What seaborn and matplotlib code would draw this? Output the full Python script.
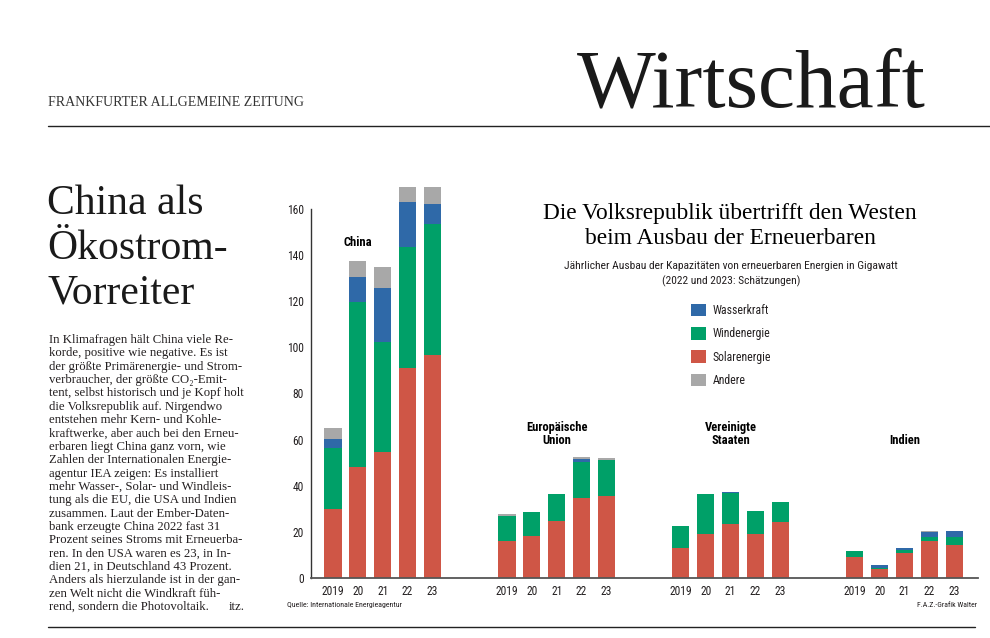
import matplotlib
matplotlib.use("Agg")
import matplotlib.pyplot as plt
import seaborn as sns
import pandas as pd
from matplotlib.patches import Patch
from matplotlib.lines import Line2D

# ---------------- data (GW) ----------------
regions = ["China", "Europäische\nUnion", "Vereinigte\nStaaten", "Indien"]
years = ["2019", "20", "21", "22", "23"]

china_solar = [30.0, 48.0, 54.6, 91.0, 96.6]
china_wind = [26.2, 71.6, 47.8, 52.7, 57.1]
china_hydro = [4.0, 11.0, 23.4, 19.4, 8.6]
china_other = [4.8, 7.0, 9.1, 6.6, 7.5]

eu_solar = [15.8, 18.1, 24.6, 34.6, 35.5]
eu_wind = [11.0, 10.3, 11.6, 15.8, 15.6]
eu_hydro = [0.0, 0.0, 0.0, 1.3, 0.0]
eu_other = [0.9, 0.0, 0.0, 0.6, 0.7]

us_solar = [13.0, 19.0, 23.5, 19.0, 24.2]
us_wind = [9.4, 17.3, 13.5, 10.1, 8.7]
us_hydro = [0.0, 0.0, 0.2, 0.0, 0.0]
us_other = [0.0, 0.0, 0.0, 0.0, 0.0]

india_solar = [9.0, 3.8, 10.7, 15.9, 14.3]
india_wind = [2.6, 0.5, 1.3, 1.9, 3.5]
india_hydro = [0.0, 1.2, 1.0, 1.9, 2.5]
india_other = [0.0, 0.0, 0.0, 0.6, 0.0]

series_labels = ["Wasserkraft", "Windenergie", "Solarenergie", "Andere"]
yticks = [0, 20, 40, 60, 80, 100, 120, 140, 160]

body_lines = [
    "In Klimafragen hält China viele Re-",
    "korde, positive wie negative. Es ist",
    "der größte Primärenergie- und Strom-",
    "verbraucher, der größte CO₂-Emit-",
    "tent, selbst historisch und je Kopf holt",
    "die Volksrepublik auf. Nirgendwo",
    "entstehen mehr Kern- und Kohle-",
    "kraftwerke, aber auch bei den Erneu-",
    "erbaren liegt China ganz vorn, wie",
    "Zahlen der Internationalen Energie-",
    "agentur IEA zeigen: Es installiert",
    "mehr Wasser-, Solar- und Windleis-",
    "tung als die EU, die USA und Indien",
    "zusammen. Laut der Ember-Daten-",
    "bank erzeugte China 2022 fast 31",
    "Prozent seines Stroms mit Erneuerba-",
    "ren. In den USA waren es 23, in In-",
    "dien 21, in Deutschland 43 Prozent.",
    "Anders als hierzulande ist in der gan-",
    "zen Welt nicht die Windkraft füh-",
    "rend, sondern die Photovoltaik.",
]
body_sign = "itz."

# ---------------- table ----------------
blocks = [
    (china_solar, china_wind, china_hydro, china_other),
    (eu_solar, eu_wind, eu_hydro, eu_other),
    (us_solar, us_wind, us_hydro, us_other),
    (india_solar, india_wind, india_hydro, india_other),
]
rows = []
for g, (s, w, h, o) in enumerate(blocks):
    for i in range(len(years)):
        rows.append(dict(region=regions[g], year=years[i], pos=g * 7 + i,
                         solar=s[i], wind=w[i], hydro=h[i], other=o[i]))
df = pd.DataFrame(rows)
df["c_solar"] = df["solar"]
df["c_wind"] = df["c_solar"] + df["wind"]
df["c_hydro"] = df["c_wind"] + df["hydro"]
df["c_other"] = df["c_hydro"] + df["other"]

# ---------------- style ----------------
sns.set_style("white")
SERIF = ["Liberation Serif", "DejaVu Serif"]
SANS = ["Liberation Sans Narrow", "Roboto Condensed", "Open Sans Condensed",
        "DejaVu Sans Condensed", "Roboto", "DejaVu Sans"]
plt.rcParams["font.family"] = SANS

C_RED = "#cf5646"
C_GREEN = "#00a068"
C_BLUE = "#2f69a8"
C_GRAY = "#a8a8a8"
C_TEXT = "#231f20"

W, H = 990, 638
fig = plt.figure(figsize=(W / 100, H / 100), dpi=100)
fig.patch.set_facecolor("white")

def fx(px):
    return px / W

def fy(py):
    return 1 - py / H

# axes: x data 0 at px 333, 24.85 px per unit; y 0 at py 577.7, 2.3025 px per unit
px_unit = 24.85
py_unit = 2.3025
ax_l, ax_r = 311, 978
ax_b = 577.7
ymax = 175
ax_t = ax_b - ymax * py_unit
ax = fig.add_axes([fx(ax_l), fy(ax_b), fx(ax_r - ax_l), (ax_b - ax_t) / H])
ax.set_facecolor("none")

for col, colr in [("c_other", C_GRAY), ("c_hydro", C_BLUE),
                  ("c_wind", C_GREEN), ("c_solar", C_RED)]:
    sns.barplot(data=df, x="pos", y=col, native_scale=True, orient="x",
                width=0.69, color=colr, saturation=1, linewidth=0,
                errorbar=None, ax=ax)

ax.set_xlim((ax_l - 333) / px_unit, (ax_r - 333) / px_unit)
ax.set_ylim(0, ymax)
ax.set_xlabel("")
ax.set_ylabel("")
ax.set_xticks(df["pos"].tolist())
ax.set_xticklabels(df["year"].tolist())
ax.set_yticks(yticks)
ax.set_yticklabels([str(v) for v in yticks])
ax.tick_params(axis="x", length=0, pad=5, labelsize=8.3, labelcolor=C_TEXT)
ax.tick_params(axis="y", length=3, width=0.9, pad=2, labelsize=8.3,
               labelcolor=C_TEXT, color="#333333", direction="out")
for sp in ["top", "right"]:
    ax.spines[sp].set_visible(False)
ax.spines["left"].set_bounds(0, 160)
ax.spines["left"].set_color("#333333")
ax.spines["left"].set_linewidth(1.0)
ax.spines["bottom"].set_color("#555555")
ax.spines["bottom"].set_linewidth(1.3)
ax.grid(False)

# group labels
ax.text((357.5 - 333) / px_unit, (ax_b - 242) / py_unit, regions[0],
        ha="center", va="center", fontsize=9, fontweight="bold", color="black")
for g in (1, 2):
    ax.text(g * 7 + 2, (ax_b - 434) / py_unit, regions[g], ha="center",
            va="center", fontsize=9, fontweight="bold", color="black",
            linespacing=1.1)
ax.text(3 * 7 + 2, (ax_b - 441) / py_unit, regions[3], ha="center",
        va="center", fontsize=9, fontweight="bold", color="black")

# legend
handles = [Patch(facecolor=c, edgecolor="none") for c in (C_BLUE, C_GREEN, C_RED, C_GRAY)]
leg = fig.legend(handles, series_labels, loc="upper left",
                 bbox_to_anchor=(fx(691), fy(304)), frameon=False,
                 fontsize=8.5, handlelength=1.25, handleheight=1.25,
                 handletextpad=0.6, labelspacing=0.85, borderpad=0,
                 borderaxespad=0)
for t in leg.get_texts():
    t.set_color(C_TEXT)

# chart title / subtitle
fig.text(fx(730), fy(213), "Die Volksrepublik übertrifft den Westen",
         ha="center", va="center", fontsize=16.8, family=SERIF, color="black")
fig.text(fx(730), fy(238), "beim Ausbau der Erneuerbaren",
         ha="center", va="center", fontsize=16.8, family=SERIF, color="black")
fig.text(fx(731), fy(266),
         "Jährlicher Ausbau der Kapazitäten von erneuerbaren Energien in Gigawatt",
         ha="center", va="center", fontsize=8.25, color=C_TEXT)
fig.text(fx(731), fy(281), "(2022 und 2023: Schätzungen)",
         ha="center", va="center", fontsize=8.25, color=C_TEXT)

# sources
fig.text(fx(287), fy(605), "Quelle: Internationale Energieagentur",
         ha="left", va="center", fontsize=5.7, color=C_TEXT)
fig.text(fx(977), fy(605), "F.A.Z.-Grafik Walter",
         ha="right", va="center", fontsize=5.6, color=C_TEXT)

# page header
fig.text(fx(48), fy(103), "FRANKFURTER ALLGEMEINE ZEITUNG", ha="left",
         va="center", fontsize=10.0, family=SERIF, color="#333333")
fig.text(fx(577), fy(107), "Wirtschaft", ha="left", va="baseline",
         fontsize=60, family=SERIF, color="#1a1a1a")
fig.add_artist(Line2D([fx(48), fx(990)], [fy(126), fy(126)], color="#222222",
                      linewidth=1.0))
fig.add_artist(Line2D([fx(48), fx(975)], [fy(627), fy(627)], color="#222222",
                      linewidth=1.0))

# headline
for k, line in enumerate(["China als", "Ökostrom-", "Vorreiter"]):
    fig.text(fx(47), fy(214 + k * 45), line, ha="left", va="baseline",
             fontsize=30, family=SERIF, color="#1a1a1a")

# body text (ragged right)
x0, x1 = 49, 245
y0, dy = 340, 13.36
BODY_FS = 9.2
for k, line in enumerate(body_lines):
    y = fy(y0 + k * dy)
    fig.text(fx(x0), y, line, ha="left", va="center", fontsize=BODY_FS,
             family=SERIF, color=C_TEXT)
fig.text(fx(x1), fy(y0 + (len(body_lines) - 1) * dy), body_sign, ha="right",
         va="center", fontsize=BODY_FS, family=SERIF, color=C_TEXT)

fig.savefig("out.png", dpi=100, facecolor="white")
